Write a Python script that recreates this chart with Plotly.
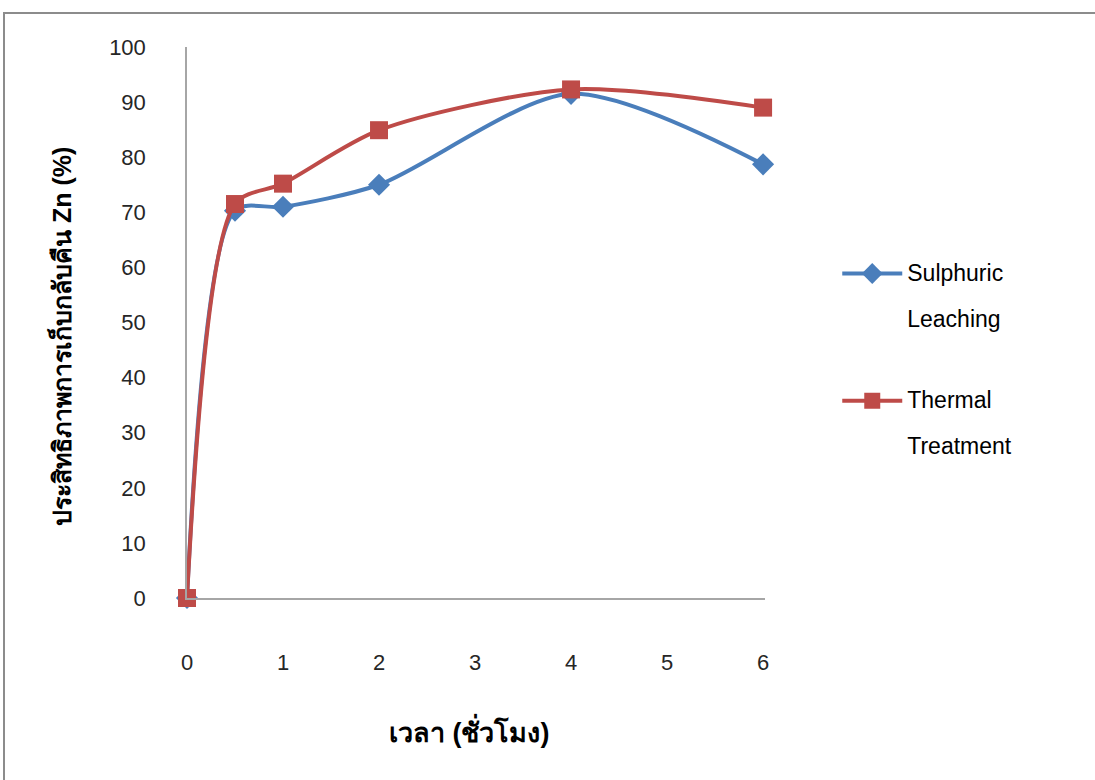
import plotly.graph_objects as go

hours = [0, 0.5, 1, 2, 4, 6]
sulphuric = [0, 70.3, 71.0, 75.0, 91.5, 78.7]
thermal = [0, 71.5, 75.2, 84.9, 92.3, 89.0]
x_ticks = [0, 1, 2, 3, 4, 5, 6]
y_ticks = [0, 10, 20, 30, 40, 50, 60, 70, 80, 90, 100]
names = [("Sulphuric", "Leaching"), ("Thermal", "Treatment")]
x_title = "เวลา (ชั่วโมง)"
y_title = "ประสิทธิภาพการเก็บกลับคืน Zn (%)"

blue = "#4a7ebb"
red = "#be4b48"
font = "Liberation Sans, Arial, sans-serif"


def legend_name(a, b):
    s = "<span style='font-size:23px'>%s</span>"
    return (s % a) + "<br><br>" + (s % b)


fig = go.Figure()
fig.add_trace(go.Scatter(
    x=hours, y=sulphuric, name=legend_name(*names[0]), legendgroup="a",
    mode="lines+markers", line=dict(color=blue, width=4, shape="spline", smoothing=0.8),
    marker=dict(symbol="diamond", size=17, color=blue), cliponaxis=False,
))
fig.add_trace(go.Scatter(
    x=hours, y=thermal, name=legend_name(*names[1]), legendgroup="b",
    mode="lines+markers", line=dict(color=red, width=4, shape="spline", smoothing=0.8),
    marker=dict(symbol="square", size=18, color=red), cliponaxis=False,
))

fig.update_layout(
    width=1095, height=780,
    margin=dict(l=187, r=330, t=47, b=182),
    paper_bgcolor="white", plot_bgcolor="white",
    font=dict(family=font, size=22, color="#262626"),
    showlegend=True,
    legend=dict(x=1.125, y=0.622, xanchor="left", yanchor="top", valign="top",
                font=dict(size=18, color="black"), tracegroupgap=54, itemwidth=60,
                bgcolor="rgba(0,0,0,0)"),
    xaxis=dict(range=[0, 6.02], tickvals=x_ticks, showgrid=False, zeroline=False,
               showline=True, linecolor="#a6a6a6", linewidth=1.5, ticks="",
               ticklabelstandoff=44),
    yaxis=dict(range=[0, 100], tickvals=y_ticks, showgrid=False, zeroline=False,
               showline=True, linecolor="#a6a6a6", linewidth=1.5, ticks="",
               ticklabelstandoff=35),
    annotations=[
        dict(text="<b>%s</b>" % x_title, xref="paper", yref="paper",
             x=(469 - 187) / 578, y=(598 - 730) / 551, xanchor="center", yanchor="middle",
             showarrow=False, font=dict(size=27, color="black")),
        dict(text="<b>%s</b>" % y_title, xref="paper", yref="paper", textangle=-90,
             x=(61 - 187) / 578, y=(598 - 337) / 551, xanchor="center", yanchor="middle",
             showarrow=False, font=dict(size=25, color="black")),
    ],
    shapes=[dict(type="rect", xref="paper", yref="paper",
                 x0=(4 - 187) / 578, x1=2, y0=-1, y1=(598 - 13) / 551,
                 line=dict(color="#8c8c8c", width=2), fillcolor="rgba(0,0,0,0)", layer="below")],
)

fig.write_html("out.html", config={"displayModeBar": False},
               post_script="document.body.style.margin='0px';")
